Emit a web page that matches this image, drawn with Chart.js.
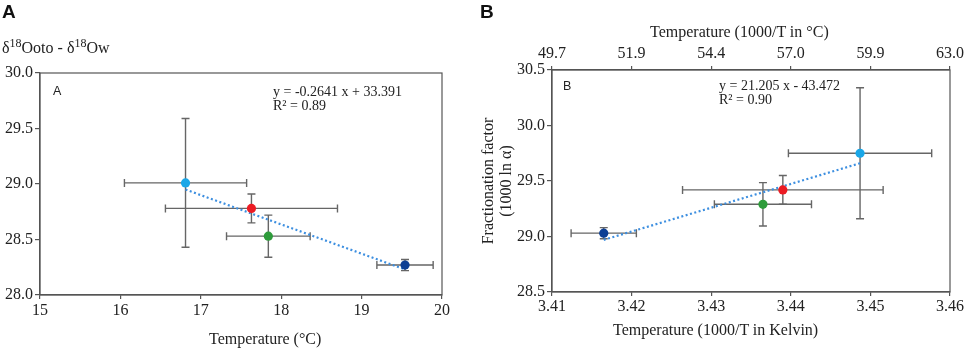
<!DOCTYPE html>
<html><head><meta charset="utf-8">
<script src="https://cdn.jsdelivr.net/npm/chart.js@4.4.1/dist/chart.umd.min.js"></script>
<style>
html,body{margin:0;padding:0;background:#fff;}
body{width:969px;height:350px;position:relative;overflow:hidden;color:#222;}
.t{position:absolute;white-space:nowrap;font-family:'Liberation Serif',serif;font-size:16px;line-height:16px;color:#222;}
.eq{font-size:14px;line-height:13.5px;}
.big{font-family:'Liberation Sans',Arial,sans-serif;font-weight:700;font-size:19px;line-height:19px;color:#111;}
.in{font-family:'Liberation Sans',Arial,sans-serif;font-size:12.5px;line-height:13px;color:#222;}
sup{font-size:12px;vertical-align:6px;line-height:0;}
#cA{position:absolute;left:0;top:0;}
#cB{position:absolute;left:480px;top:0;}
</style></head><body>
<canvas id="cA" width="480" height="350"></canvas>
<canvas id="cB" width="489" height="350"></canvas>

<div class="t big" style="left:2px;top:2px;">A</div>
<div class="t" style="left:2px;top:40px;">δ<sup>18</sup>Ooto - δ<sup>18</sup>Ow</div>
<div class="t in" style="left:53px;top:85px;">A</div>
<div class="t eq" style="left:273px;top:85px;">y = -0.2641 x + 33.391<br>R² = 0.89</div>
<div class="t" style="left:209px;top:331px;">Temperature (°C)</div>

<div class="t big" style="left:480px;top:2px;">B</div>
<div class="t" style="left:650px;top:24px;">Temperature (1000/T in °C)</div>
<div class="t in" style="left:563px;top:80px;">B</div>
<div class="t eq" style="left:719px;top:79px;">y = 21.205 x - 43.472<br>R² = 0.90</div>
<div class="t" style="left:613px;top:322px;">Temperature (1000/T in Kelvin)</div>

<script>
// ---------- data ----------
const sampleColors = ['#1aa7e8', '#ec1c24', '#2e9b3b', '#0d3f94'];

// Panel A
const tempC        = [16.81, 17.63, 17.84, 19.54];
const tempCErr     = [0.76, 1.07, 0.52, 0.35];
const deltaDiff    = [29.01, 28.78, 28.53, 28.27];
const deltaDiffErr = [0.58, 0.13, 0.19, 0.05];
const trendATemp   = [16.81, 19.54];
const trendAVal    = [28.95, 28.23];
const tempTicksA   = [15, 16, 17, 18, 19, 20];
const deltaTicks   = [28.0, 28.5, 29.0, 29.5, 30.0];

// Panel B
const invTK          = [3.4487, 3.4390, 3.4365, 3.4165];
const invTKErr       = [0.0090, 0.0126, 0.0061, 0.0041];
const fracFactor     = [29.75, 29.42, 29.29, 29.03];
const fracFactorErr  = [0.59, 0.13, 0.195, 0.05];
const trendBInvT     = [3.4165, 3.4487];
const trendBVal      = [28.97, 29.66];
const kelvinTicks    = [3.41, 3.42, 3.43, 3.44, 3.45, 3.46];
const celsiusTopLabels = ['49.7', '51.9', '54.4', '57.0', '59.9', '63.0'];
const fracTicks      = [28.5, 29.0, 29.5, 30.0, 30.5];

// ---------- helpers ----------
Chart.defaults.font.family = "'Liberation Serif', serif";
Chart.defaults.font.size = 16;
Chart.defaults.color = '#222';

const AXIS = '#555';
const errorBars = {
  id: 'errorBars',
  beforeDatasetsDraw(chart) {
    const ctx = chart.ctx;
    chart.data.datasets.forEach((ds, di) => {
      if (!ds.xErr) return;
      const xs = chart.scales[ds.xAxisID || 'x'], ys = chart.scales[ds.yAxisID || 'y'];
      ctx.save();
      ctx.strokeStyle = '#666';
      ctx.lineWidth = 1.4;
      const cap = 4;
      ds.data.forEach((p, i) => {
        const px = xs.getPixelForValue(p.x), py = ys.getPixelForValue(p.y);
        const x0 = xs.getPixelForValue(p.x - ds.xErr[i]), x1 = xs.getPixelForValue(p.x + ds.xErr[i]);
        const y0 = ys.getPixelForValue(p.y - ds.yErr[i]), y1 = ys.getPixelForValue(p.y + ds.yErr[i]);
        ctx.beginPath();
        ctx.moveTo(x0, py); ctx.lineTo(x1, py);
        ctx.moveTo(x0, py - cap); ctx.lineTo(x0, py + cap);
        ctx.moveTo(x1, py - cap); ctx.lineTo(x1, py + cap);
        ctx.moveTo(px, y0); ctx.lineTo(px, y1);
        ctx.moveTo(px - cap, y0); ctx.lineTo(px + cap, y0);
        ctx.moveTo(px - cap, y1); ctx.lineTo(px + cap, y1);
        ctx.stroke();
      });
      ctx.restore();
    });
  }
};
const frame = {
  id: 'frame',
  afterDraw(chart) {
    const a = chart.chartArea, ctx = chart.ctx;
    ctx.save();
    ctx.strokeStyle = AXIS;
    ctx.lineWidth = 1.2;
    ctx.strokeRect(a.left, a.top, a.right - a.left, a.bottom - a.top);
    ctx.restore();
  }
};
function fixed(list) { return s => { s.ticks = list.map(v => ({ value: v })); }; }
const gridOpt = { display: true, drawOnChartArea: false, drawTicks: true, tickLength: 4, color: AXIS, lineWidth: 1.2 };
const borderOpt = { display: true, color: AXIS, width: 1.2 };

function scatterSet(xv, yv, xe, ye) {
  return {
    type: 'scatter',
    data: xv.map((x, i) => ({ x: x, y: yv[i] })),
    xErr: xe, yErr: ye,
    pointRadius: 4.6, pointHoverRadius: 4.6,
    pointBackgroundColor: sampleColors, pointBorderWidth: 0,
    order: 0
  };
}
function trendSet(xv, yv) {
  return {
    type: 'line',
    data: xv.map((x, i) => ({ x: x, y: yv[i] })),
    borderColor: '#3d8fe0', borderWidth: 2.2, borderDash: [2, 2.5],
    pointRadius: 0, fill: false, tension: 0,
    order: 1
  };
}
const common = {
  responsive: false, animation: false,
  plugins: { legend: { display: false }, tooltip: { enabled: false } },
  events: []
};

// ---------- Panel A ----------
new Chart(document.getElementById('cA'), {
  data: { datasets: [scatterSet(tempC, deltaDiff, tempCErr, deltaDiffErr), trendSet(trendATemp, trendAVal)] },
  options: Object.assign({}, common, {
    layout: { padding: { left: 0, top: 73, right: 38, bottom: 0 } },
    scales: {
      x: {
        type: 'linear', min: 15, max: 20,
        afterBuildTicks: fixed(tempTicksA),
        afterFit: s => { s.height = 55; },
        grid: gridOpt, border: borderOpt,
        ticks: { padding: 2, maxRotation: 0, callback: v => String(v) }
      },
      y: {
        type: 'linear', min: 28, max: 30,
        afterBuildTicks: fixed(deltaTicks),
        afterFit: s => { s.width = 40; },
        grid: Object.assign({}, gridOpt, { tickLength: 5 }), border: borderOpt,
        ticks: { padding: 2, callback: v => v.toFixed(1) }
      }
    }
  }),
  plugins: [errorBars, frame]
});

// ---------- Panel B ----------
new Chart(document.getElementById('cB'), {
  data: { datasets: [scatterSet(invTK, fracFactor, invTKErr, fracFactorErr), trendSet(trendBInvT, trendBVal)] },
  options: Object.assign({}, common, {
    layout: { padding: { left: 0, top: 0, right: 19, bottom: 0 } },
    scales: {
      x: {
        type: 'linear', min: 3.41, max: 3.46,
        afterBuildTicks: fixed(kelvinTicks),
        afterFit: s => { s.height = 58; },
        grid: gridOpt, border: borderOpt,
        ticks: { padding: 1, maxRotation: 0, callback: v => v.toFixed(2) }
      },
      x2: {
        type: 'linear', position: 'top', min: 3.41, max: 3.46,
        afterBuildTicks: fixed(kelvinTicks),
        afterFit: s => { s.height = 70; },
        grid: gridOpt, border: borderOpt,
        ticks: { padding: 3, maxRotation: 0, callback: (v, i) => celsiusTopLabels[i] }
      },
      y: {
        type: 'linear', min: 28.5, max: 30.5,
        afterBuildTicks: fixed(fracTicks),
        afterFit: s => { s.width = 72; },
        grid: Object.assign({}, gridOpt, { tickLength: 5 }), border: borderOpt,
        title: { display: true, text: ['Fractionation factor', '(1000 ln α)'], padding: 0,
                 font: { size: 16, lineHeight: 1.1 } },
        ticks: { padding: 2, callback: v => v.toFixed(1) }
      }
    }
  }),
  plugins: [errorBars, frame]
});
</script>
</body></html>
